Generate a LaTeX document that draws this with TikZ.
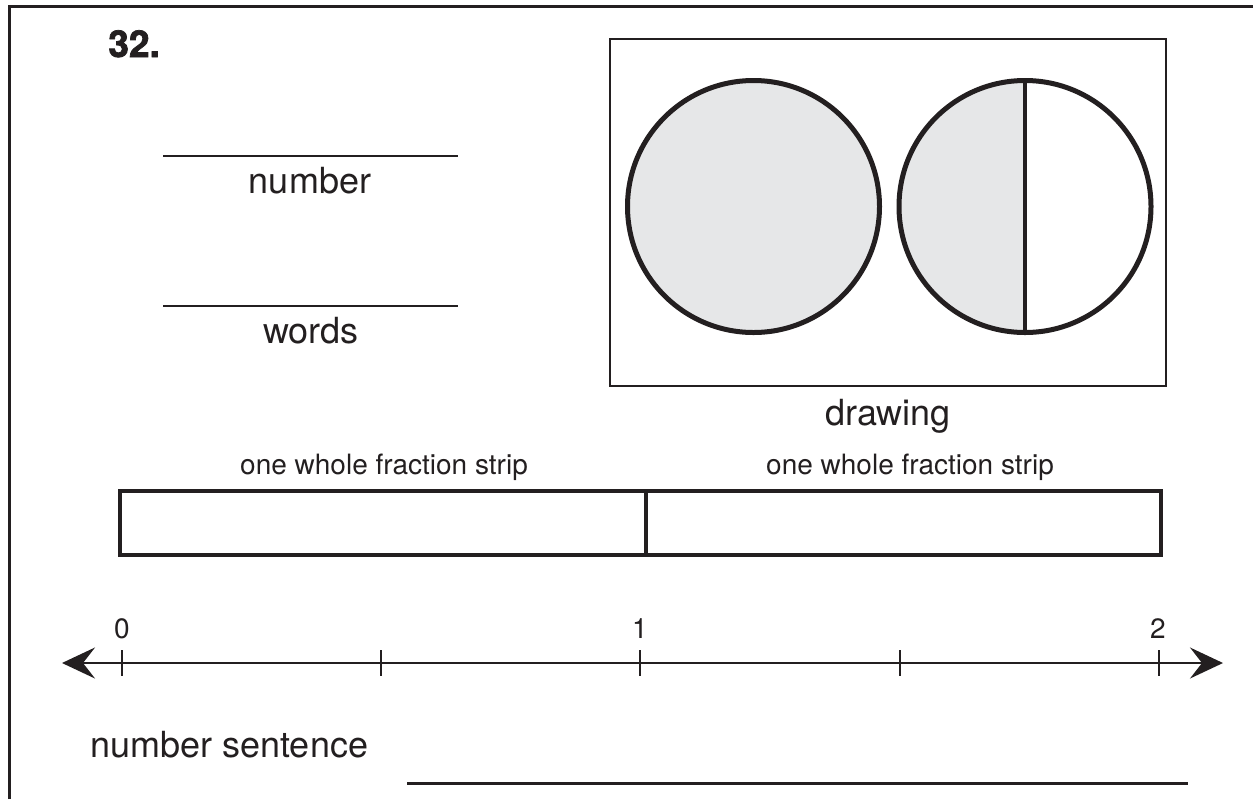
\documentclass[tikz,border=0pt]{standalone}
\usepackage{fontspec}
\setmainfont{TeX Gyre Heros}
\newfontfamily\heavyfont[BoldFeatures={FakeBold=2}]{TeX Gyre Heros}
\usetikzlibrary{arrows.meta}
\definecolor{ink}{HTML}{231F20}
\definecolor{lightgrayfill}{HTML}{E6E7E8}
\begin{document}
\begin{tikzpicture}[x=0.5pt,y=-0.5pt,
  big/.style={inner sep=0pt, anchor=base, text=ink, font=\fontsize{18}{20}\selectfont},
  mid/.style={inner sep=0pt, anchor=base, text=ink, font=\fontsize{14}{16}\selectfont},
  frame/.style={draw=ink, line width=1.5pt},
  blank/.style={draw=ink, line width=1.25pt},
  ring/.style={draw=ink, line width=2.5pt},
  strip/.style={draw=ink, line width=2pt},
  axis/.style={draw=ink, line width=1pt},
  >={Stealth[length=16.5pt,width=15.5pt,inset=6pt]}]
\useasboundingbox (0,0) rectangle (1253,799);
% outer frame
\draw[frame] (9,799) -- (9,6) -- (1253,6);
\node[inner sep=0pt, anchor=base west, text=ink, font=\heavyfont\fontsize{18.5}{20}\selectfont\bfseries] (q) at (108,57) {32.};
% number / words
\coordinate (n1) at (163,156); \coordinate (n2) at (458,156);
\draw[blank] (n1) -- (n2);
\node[big] (number) at (310,193) {number};
\coordinate (w1) at (163,306); \coordinate (w2) at (458,306);
\draw[blank] (w1) -- (w2);
\node[big] (words) at (311,343) {words};
% drawing box
\draw[blank] (610,39) rectangle (1166,386);
\fill[lightgrayfill] (753.5,206.5) circle[radius=126];
\draw[ring] (753.5,206.5) circle[radius=126];
\fill[lightgrayfill] (1025,332.5) arc[start angle=90, end angle=270, radius=126] -- cycle;
\draw[ring] (1025,206.5) circle[radius=126];
\coordinate (d1) at (1025,80.5); \coordinate (d2) at (1025,332.5);
\draw[draw=ink, line width=2pt] (d1) -- (d2);
\node[big] (drawing) at (888,425) {drawing};
% fraction strips
\node[mid] (fs1) at (384,474) {one whole fraction strip};
\node[mid] (fs2) at (910,474) {one whole fraction strip};
\draw[strip] (120,491) rectangle (1161,555);
\coordinate (s1) at (646,491); \coordinate (s2) at (646,555);
\draw[strip] (s1) -- (s2);
% number line
\coordinate (L) at (62,663); \coordinate (R) at (1223,663);
\draw[axis, <->] (L) -- (R);
\foreach \x in {122,381,640,900,1159} \draw[axis] (\x,650) -- (\x,676);
\node[mid] (z0) at (122,638) {0};
\node[mid] (z1) at (640,638) {1};
\node[mid] (z2) at (1158,638) {2};
% number sentence
\node[inner sep=0pt, anchor=base west, text=ink, font=\fontsize{18}{20}\selectfont] (ns) at (90,757) {number sentence};
\coordinate (a1) at (407,783); \coordinate (a2) at (1188,783);
\draw[draw=ink, line width=1.5pt] (a1) -- (a2);
\end{tikzpicture}
\end{document}
